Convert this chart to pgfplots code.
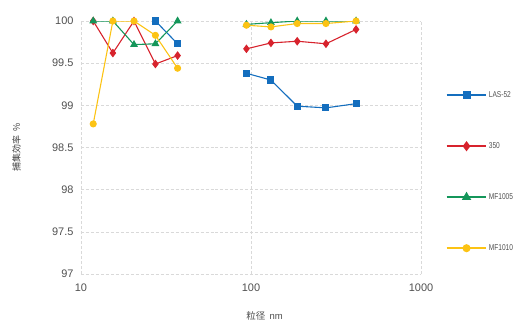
\documentclass[border=0pt]{standalone}
\usepackage{fontspec}
\setmainfont{Liberation Sans}
\newfontfamily\narrowfont[FakeStretch=0.78]{Liberation Sans}
\newfontfamily\cjk{Noto Sans CJK JP}
\usepackage{pgfplots}
\pgfplotsset{compat=1.18}
\definecolor{cblue}{RGB}{20,110,190}
\definecolor{cred}{RGB}{215,35,45}
\definecolor{cgreen}{RGB}{20,150,90}
\definecolor{cyellow}{RGB}{252,195,20}
\definecolor{tgrey}{RGB}{80,80,80}
\begin{document}
\begin{tikzpicture}
\path[use as bounding box] (-81bp,-48bp) rectangle (432bp,274bp);
\begin{axis}[
  at={(0,0)}, anchor=south west,
  scale only axis, width=340bp, height=253bp,
  xmode=log, xmin=10, xmax=1000, ymin=97, ymax=100,
  xtick={10,100,1000}, xticklabels={10,100,1000},
  ytick={97,97.5,98,98.5,99,99.5,100},
  yticklabels={97,97.5,98,98.5,99,99.5,100},
  minor xtick={},
  major tick length=0pt, minor tick length=0pt,
  axis line style={draw=none},
  ymajorgrids, xmajorgrids,
  major grid style={gray!30, densely dashed, line width=0.5pt},
  tick label style={font=\fontsize{11}{13}\selectfont, text=tgrey},
  yticklabel style={xshift=-4bp},
  xticklabel style={yshift=-6bp},
  unbounded coords=jump,
  ylabel={\cjk 捕集効率\ \ \%},
  ylabel style={at={(axis description cs:-0.19,0.5)}, anchor=center, font=\fontsize{9}{10}\selectfont, text=black!75},
  xlabel={\cjk 粒径\ \ \rmfamily nm},
  xlabel style={at={(axis description cs:0.54,-0.165)}, anchor=center, font=\fontsize{9.5}{11}\selectfont, text=tgrey},
  legend style={at={(1.072,0.728)}, anchor=north west, draw=none, fill=none,
    font=\narrowfont\fontsize{8.5}{10}\selectfont, text=tgrey, row sep=40.6bp, inner sep=0pt,
    nodes={inner sep=1.5pt}},
  legend cell align=left,
  legend image code/.code={\draw[line width=2pt, mark repeat=2,mark phase=2] plot coordinates {(0cm,0cm)(0.7cm,0cm)(1.4cm,0cm)};},
  every axis plot/.append style={line width=1.1pt},
]
\addplot[cblue, mark=square*, mark size=3pt] coordinates {
  (27.4,100) (37,99.73) (60,nan)
  (94,99.38) (131,99.30) (187,98.99) (276,98.97) (415,99.02)};
\addlegendentry{LAS-52}
\addplot[cred, mark=diamond*, mark size=3.5pt] coordinates {
  (11.8,100) (15.4,99.62) (20.5,100) (27.4,99.49) (37,99.59) (60,nan)
  (94,99.67) (131,99.74) (187,99.76) (276,99.73) (415,99.90)};
\addlegendentry{350}
\addplot[cgreen, mark=triangle*, mark size=3.5pt] coordinates {
  (11.8,100) (15.4,100) (20.5,99.72) (27.4,99.73) (37,100) (60,nan)
  (94,99.96) (131,99.98) (187,100) (276,100) (415,100)};
\addlegendentry{MF1005}
\addplot[cyellow, mark=*, mark size=3pt] coordinates {
  (11.8,98.78) (15.4,100) (20.5,100) (27.4,99.83) (37,99.44) (60,nan)
  (94,99.95) (131,99.93) (187,99.97) (276,99.97) (415,100)};
\addlegendentry{MF1010}
\end{axis}
\end{tikzpicture}
\end{document}
